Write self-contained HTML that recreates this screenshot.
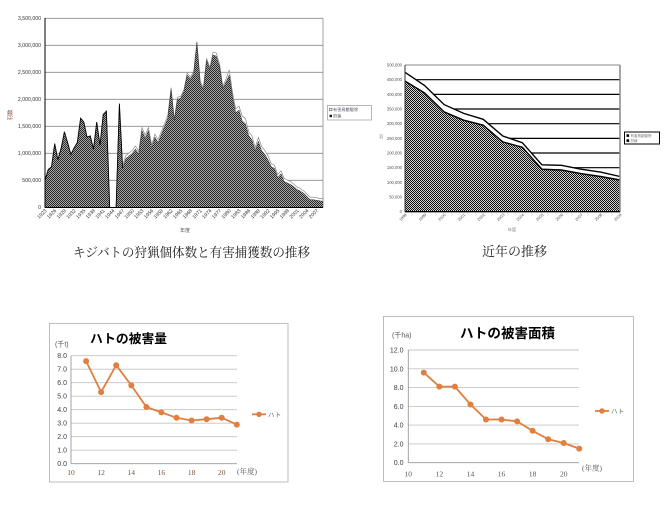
<!DOCTYPE html>
<html><head><meta charset="utf-8"><style>
html,body{margin:0;padding:0;background:#fff;}
svg{display:block;}
.s{font-family:"Liberation Sans","Noto Sans CJK JP",sans-serif;}
.r{font-family:"Liberation Serif","Noto Serif CJK SC",serif;}
</style></head><body>
<svg width="669" height="512" viewBox="0 0 669 512" xmlns="http://www.w3.org/2000/svg">
<defs>
<pattern id="chk" width="2" height="2" patternUnits="userSpaceOnUse">
<rect width="2" height="2" fill="#a4a4a4"/><rect width="1" height="1" fill="#2a2a2a"/><rect x="1" y="1" width="1" height="1" fill="#2a2a2a"/>
</pattern>
<pattern id="chk2" width="2" height="2" patternUnits="userSpaceOnUse">
<rect width="2" height="2" fill="#d0d0d0"/><rect width="1" height="1" fill="#111"/><rect x="1" y="1" width="1" height="1" fill="#111"/>
</pattern>
</defs>
<rect width="669" height="512" fill="#fff"/>

<!-- ============ TOP LEFT CHART ============ -->
<g stroke="#8a8a8a" stroke-width="0.8">
<line x1="45" y1="18.3" x2="323" y2="18.3"/>
<line x1="45" y1="45.3" x2="323" y2="45.3"/>
<line x1="45" y1="72.3" x2="323" y2="72.3"/>
<line x1="45" y1="99.3" x2="323" y2="99.3"/>
<line x1="45" y1="126.3" x2="323" y2="126.3"/>
<line x1="45" y1="153.3" x2="323" y2="153.3"/>
<line x1="45" y1="180.3" x2="323" y2="180.3"/>
<line x1="323" y1="18.3" x2="323" y2="207.3"/>
</g>
<polygon fill="#fff" stroke="#777" stroke-width="0.6" points="116.1,207.3 119.4,103.6 122.6,165.4 125.8,155.7 129.0,153.0 132.3,150.3 135.5,146.0 138.7,151.4 142.0,127.6 145.2,135.2 148.4,127.6 151.7,144.9 154.9,134.1 158.1,139.5 161.4,131.4 164.6,123.3 167.8,115.2 171.1,87.6 174.3,118.9 177.5,97.3 180.8,96.2 184.0,89.2 187.2,73.0 190.5,76.8 193.7,71.4 196.9,41.6 200.2,81.1 203.4,87.6 206.6,58.4 209.9,67.6 213.1,52.0 216.3,53.1 219.6,63.9 222.8,86.5 226.0,79.0 229.3,70.0 232.5,92.6 235.7,108.8 239.0,106.1 242.2,115.9 245.4,118.6 248.7,131.5 251.9,135.8 255.1,147.6 258.4,137.4 261.6,146.6 264.8,150.4 268.0,155.8 271.3,163.8 274.5,165.4 277.7,174.6 281.0,170.8 284.2,178.4 287.4,180.0 290.7,181.6 293.9,184.3 297.1,187.0 300.4,188.6 303.6,190.8 306.8,194.0 310.1,197.2 313.3,197.2 316.5,197.8 319.8,198.3 323.0,198.9 323,207.3"/>
<polygon fill="url(#chk)" points="45,207.3 45,180.3 48.2,169.5 51.5,166.8 54.7,143.6 57.9,159.8 61.2,147.9 64.4,131.7 67.6,142.5 70.9,154.4 74.1,147.9 77.3,142.5 80.6,118.2 83.8,122.0 87.0,137.1 90.3,136.0 93.5,149.0 96.7,122.0 100.0,145.2 103.2,114.4 106.4,111.2 109.7,207.3 116.1,207.3 119.4,103.6 122.6,168.4 125.8,158.7 129.0,156.0 132.3,153.3 135.5,149.0 138.7,154.4 142.0,130.6 145.2,138.2 148.4,130.6 151.7,147.9 154.9,137.1 158.1,142.5 161.4,134.4 164.6,126.3 167.8,118.2 171.1,89.6 174.3,120.9 177.5,99.3 180.8,98.2 184.0,91.2 187.2,75.0 190.5,78.8 193.7,73.4 196.9,42.6 200.2,83.1 203.4,89.6 206.6,60.4 209.9,69.6 213.1,55.0 216.3,56.1 219.6,66.9 222.8,88.5 226.0,82.0 229.3,75.0 232.5,96.6 235.7,112.8 239.0,110.1 242.2,120.9 245.4,123.6 248.7,135.5 251.9,139.8 255.1,150.6 258.4,141.4 261.6,150.6 264.8,154.4 268.0,159.8 271.3,166.8 274.5,168.4 277.7,177.6 281.0,173.8 284.2,181.4 287.4,183.0 290.7,184.6 293.9,186.8 297.1,189.5 300.4,191.1 303.6,193.3 306.8,196.5 310.1,199.7 313.3,199.7 316.5,200.3 319.8,200.8 323.0,201.4 323,207.3"/>
<polyline fill="none" stroke="#000" stroke-width="0.9" points="45,180.3 48.2,169.5 51.5,166.8 54.7,143.6 57.9,159.8 61.2,147.9 64.4,131.7 67.6,142.5 70.9,154.4 74.1,147.9 77.3,142.5 80.6,118.2 83.8,122.0 87.0,137.1 90.3,136.0 93.5,149.0 96.7,122.0 100.0,145.2 103.2,114.4 106.4,111.2 109.7,207.3"/>
<polyline fill="none" stroke="#000" stroke-width="0.9" points="116.1,207.3 119.4,103.6 122.6,168.4"/>
<polyline fill="none" stroke="#333" stroke-width="0.5" points="122.6,168.4 125.8,158.7 129.0,156.0 132.3,153.3 135.5,149.0 138.7,154.4 142.0,130.6 145.2,138.2 148.4,130.6 151.7,147.9 154.9,137.1 158.1,142.5 161.4,134.4 164.6,126.3 167.8,118.2 171.1,89.6 174.3,120.9 177.5,99.3 180.8,98.2 184.0,91.2 187.2,75.0 190.5,78.8 193.7,73.4 196.9,42.6 200.2,83.1 203.4,89.6 206.6,60.4 209.9,69.6 213.1,55.0 216.3,56.1 219.6,66.9 222.8,88.5 226.0,82.0 229.3,75.0 232.5,96.6 235.7,112.8 239.0,110.1 242.2,120.9 245.4,123.6 248.7,135.5 251.9,139.8 255.1,150.6 258.4,141.4 261.6,150.6 264.8,154.4 268.0,159.8 271.3,166.8 274.5,168.4 277.7,177.6 281.0,173.8 284.2,181.4 287.4,183.0 290.7,184.6 293.9,186.8 297.1,189.5 300.4,191.1 303.6,193.3 306.8,196.5 310.1,199.7 313.3,199.7 316.5,200.3 319.8,200.8 323.0,201.4"/>
<line x1="45" y1="18" x2="45" y2="207.8" stroke="#000" stroke-width="1"/>
<line x1="45" y1="207.5" x2="323" y2="207.5" stroke="#000" stroke-width="1"/>
<g class="s" font-size="5.2" fill="#333" text-anchor="end">
<text x="41" y="20">3,500,000</text>
<text x="41" y="47">3,000,000</text>
<text x="41" y="74">2,500,000</text>
<text x="41" y="101">2,000,000</text>
<text x="41" y="128">1,500,000</text>
<text x="41" y="155">1,000,000</text>
<text x="41" y="182">500,000</text>
<text x="41" y="209">0</text>
</g>
<g class="s" font-size="5" fill="#333" text-anchor="end">
<text transform="translate(47,211) rotate(-45)">1923</text>
<text transform="translate(56.7,211) rotate(-45)">1926</text>
<text transform="translate(66.4,211) rotate(-45)">1929</text>
<text transform="translate(76.1,211) rotate(-45)">1932</text>
<text transform="translate(85.8,211) rotate(-45)">1935</text>
<text transform="translate(95.5,211) rotate(-45)">1938</text>
<text transform="translate(105.2,211) rotate(-45)">1941</text>
<text transform="translate(114.9,211) rotate(-45)">1944</text>
<text transform="translate(124.6,211) rotate(-45)">1947</text>
<text transform="translate(134.3,211) rotate(-45)">1950</text>
<text transform="translate(144,211) rotate(-45)">1953</text>
<text transform="translate(153.7,211) rotate(-45)">1956</text>
<text transform="translate(163.4,211) rotate(-45)">1959</text>
<text transform="translate(173.1,211) rotate(-45)">1962</text>
<text transform="translate(182.8,211) rotate(-45)">1965</text>
<text transform="translate(192.5,211) rotate(-45)">1968</text>
<text transform="translate(202.2,211) rotate(-45)">1971</text>
<text transform="translate(211.9,211) rotate(-45)">1974</text>
<text transform="translate(221.6,211) rotate(-45)">1977</text>
<text transform="translate(231.3,211) rotate(-45)">1980</text>
<text transform="translate(241,211) rotate(-45)">1983</text>
<text transform="translate(250.7,211) rotate(-45)">1986</text>
<text transform="translate(260.4,211) rotate(-45)">1989</text>
<text transform="translate(270.1,211) rotate(-45)">1992</text>
<text transform="translate(279.8,211) rotate(-45)">1995</text>
<text transform="translate(289.5,211) rotate(-45)">1998</text>
<text transform="translate(299.2,211) rotate(-45)">2001</text>
<text transform="translate(308.9,211) rotate(-45)">2004</text>
<text transform="translate(318.6,211) rotate(-45)">2007</text>
</g>
<text class="s" font-size="5.5" fill="#8a5040" transform="translate(12,115) rotate(-90)" text-anchor="middle">羽数</text>
<text class="s" font-size="5" fill="#555" x="185" y="232" text-anchor="middle">年度</text>
<rect x="327.5" y="105.5" width="44" height="14.5" fill="#fff" stroke="#888" stroke-width="0.6"/>
<rect x="329.5" y="108.2" width="2.5" height="2.5" fill="#fff" stroke="#333" stroke-width="0.5"/>
<rect x="329.5" y="114.7" width="2.5" height="2.5" fill="#222"/>
<g class="s" font-size="4.2" fill="#556">
<text x="333" y="111">有害鳥獣駆除</text>
<text x="333" y="117.5">狩猟</text>
</g>

<!-- ============ TOP RIGHT CHART ============ -->
<g stroke="#000" stroke-width="1.2">
<line x1="405" y1="79.7" x2="620" y2="79.7"/>
<line x1="405" y1="94.4" x2="620" y2="94.4"/>
<line x1="405" y1="109" x2="620" y2="109"/>
<line x1="405" y1="123.7" x2="620" y2="123.7"/>
<line x1="405" y1="138.4" x2="620" y2="138.4"/>
<line x1="405" y1="153" x2="620" y2="153"/>
<line x1="405" y1="167.7" x2="620" y2="167.7"/>
<line x1="405" y1="182.4" x2="620" y2="182.4"/>
<line x1="405" y1="197" x2="620" y2="197"/>
</g>
<line x1="405" y1="65" x2="620" y2="65" stroke="#888" stroke-width="1"/>
<polygon fill="#fff" points="405,211.7 405,72.3 424.6,85.5 444.1,104.6 463.7,113.4 483.2,119.3 502.8,136.0 522.3,142.7 541.9,164.8 561.4,165.3 581.0,169.2 600.5,172.1 620,176.5 620,211.7"/>
<polygon fill="url(#chk2)" points="405,211.7 405,81.1 424.6,92.9 444.1,111.9 463.7,120.2 483.2,125.2 502.8,141.9 522.3,147.2 541.9,169.2 561.4,170.0 581.0,173.6 600.5,176.5 620,180.0 620,211.7"/>
<polyline fill="none" stroke="#000" stroke-width="1.4" points="405,72.3 424.6,85.5 444.1,104.6 463.7,113.4 483.2,119.3 502.8,136.0 522.3,142.7 541.9,164.8 561.4,165.3 581.0,169.2 600.5,172.1 620,176.5"/>
<polyline fill="none" stroke="#000" stroke-width="1.4" points="405,81.1 424.6,92.9 444.1,111.9 463.7,120.2 483.2,125.2 502.8,141.9 522.3,147.2 541.9,169.2 561.4,170.0 581.0,173.6 600.5,176.5 620,180.0"/>
<line x1="620" y1="65" x2="620" y2="211.7" stroke="#888" stroke-width="1.5"/>
<line x1="405" y1="65" x2="405" y2="212" stroke="#333" stroke-width="1"/>
<line x1="405" y1="211.7" x2="620" y2="211.7" stroke="#000" stroke-width="1.3"/>
<g class="s" font-size="4.2" fill="#555" text-anchor="end">
<text x="402" y="66.5">500,000</text>
<text x="402" y="81.2">450,000</text>
<text x="402" y="95.9">400,000</text>
<text x="402" y="110.5">350,000</text>
<text x="402" y="125.2">300,000</text>
<text x="402" y="139.9">250,000</text>
<text x="402" y="154.5">200,000</text>
<text x="402" y="169.2">150,000</text>
<text x="402" y="183.9">100,000</text>
<text x="402" y="198.5">50,000</text>
<text x="402" y="213.2">0</text>
</g>
<g class="s" font-size="4" fill="#555" text-anchor="end">
<text transform="translate(407,215) rotate(-45)">1998</text>
<text transform="translate(426.6,215) rotate(-45)">1999</text>
<text transform="translate(446.1,215) rotate(-45)">2000</text>
<text transform="translate(465.7,215) rotate(-45)">2001</text>
<text transform="translate(485.2,215) rotate(-45)">2002</text>
<text transform="translate(504.8,215) rotate(-45)">2003</text>
<text transform="translate(524.3,215) rotate(-45)">2004</text>
<text transform="translate(543.9,215) rotate(-45)">2005</text>
<text transform="translate(563.4,215) rotate(-45)">2006</text>
<text transform="translate(583,215) rotate(-45)">2007</text>
<text transform="translate(602.5,215) rotate(-45)">2008</text>
<text transform="translate(622,215) rotate(-45)">2009</text>
</g>
<text class="s" font-size="4.2" fill="#777" x="381" y="138" text-anchor="middle">羽</text>
<text class="s" font-size="4.2" fill="#777" x="512" y="231" text-anchor="middle">年度</text>
<rect x="624.5" y="132" width="35" height="12" fill="#fff" stroke="#000" stroke-width="1"/>
<rect x="626.5" y="134.3" width="2.6" height="2.6" fill="#000"/>
<rect x="626.5" y="139.3" width="2.6" height="2.6" fill="#000"/>
<g class="s" font-size="3.5" fill="#777">
<text x="630.5" y="137">有害鳥獣駆除</text>
<text x="630.5" y="142">狩猟</text>
</g>

<text class="r" font-size="13" fill="#222" x="73" y="257" textLength="237" lengthAdjust="spacingAndGlyphs">キジバトの狩猟個体数と有害捕獲数の推移</text>
<text class="r" font-size="13" fill="#222" x="482" y="256" textLength="65" lengthAdjust="spacingAndGlyphs">近年の推移</text>

<!-- ============ BOTTOM LEFT CHART ============ -->
<rect x="49.5" y="323.5" width="238.5" height="158.5" fill="#fff" stroke="#bdbdbd" stroke-width="1"/>
<text class="s" font-size="12.5" font-weight="bold" fill="#000" x="90" y="343" textLength="77" lengthAdjust="spacingAndGlyphs">ハトの被害量</text>
<g stroke="#c4c4c4" stroke-width="0.9">
<line x1="71" y1="355.7" x2="237" y2="355.7"/>
<line x1="71" y1="369.2" x2="237" y2="369.2"/>
<line x1="71" y1="382.7" x2="237" y2="382.7"/>
<line x1="71" y1="396.2" x2="237" y2="396.2"/>
<line x1="71" y1="409.7" x2="237" y2="409.7"/>
<line x1="71" y1="423.2" x2="237" y2="423.2"/>
<line x1="71" y1="436.7" x2="237" y2="436.7"/>
<line x1="71" y1="450.2" x2="237" y2="450.2"/>
</g>
<line x1="71" y1="355.7" x2="71" y2="463.7" stroke="#999" stroke-width="0.9"/>
<line x1="71" y1="463.7" x2="237" y2="463.7" stroke="#999" stroke-width="0.9"/>
<g class="s" font-size="7" fill="#3b3b4b" text-anchor="end">
<text x="67" y="358.2">8.0</text>
<text x="67" y="371.7">7.0</text>
<text x="67" y="385.2">6.0</text>
<text x="67" y="398.7">5.0</text>
<text x="67" y="412.2">4.0</text>
<text x="67" y="425.7">3.0</text>
<text x="67" y="439.2">2.0</text>
<text x="67" y="452.7">1.0</text>
<text x="67" y="466.2">0.0</text>
</g>
<g class="r" font-size="7.5" fill="#7a5035" text-anchor="middle">
<text x="71" y="475">10</text>
<text x="101.1" y="475">12</text>
<text x="131.3" y="475">14</text>
<text x="161.4" y="475">16</text>
<text x="191.6" y="475">18</text>
<text x="221.7" y="475">20</text>
</g>
<text class="r" font-size="7.5" fill="#555" x="237" y="474">(年度)</text>
<text class="s" font-size="7" fill="#555" x="55" y="346.5">(千t)</text>
<polyline fill="none" stroke="#e07f3f" stroke-width="1.8" stroke-linejoin="round" points="86.1,361.1 101.1,392.1 116.2,365.2 131.3,385.4 146.4,407.0 161.4,412.4 176.5,417.8 191.6,420.5 206.6,419.2 221.7,417.8 236.8,424.6"/>
<g fill="#e07f3f">
<circle cx="86.1" cy="361.1" r="3"/><circle cx="101.1" cy="392.1" r="3"/><circle cx="116.2" cy="365.2" r="3"/><circle cx="131.3" cy="385.4" r="3"/><circle cx="146.4" cy="407.0" r="3"/><circle cx="161.4" cy="412.4" r="3"/><circle cx="176.5" cy="417.8" r="3"/><circle cx="191.6" cy="420.5" r="3"/><circle cx="206.6" cy="419.2" r="3"/><circle cx="221.7" cy="417.8" r="3"/><circle cx="236.8" cy="424.6" r="3"/>
</g>
<line x1="252" y1="414.3" x2="266" y2="414.3" stroke="#e07f3f" stroke-width="1.8"/>
<circle cx="259" cy="414.3" r="2.7" fill="#e07f3f"/>
<text class="s" font-size="6.5" fill="#666" x="268" y="416.8">ハト</text>

<!-- ============ BOTTOM RIGHT CHART ============ -->
<rect x="383.5" y="316.5" width="250" height="165" fill="#fff" stroke="#bdbdbd" stroke-width="1"/>
<text class="s" font-size="13.5" font-weight="bold" fill="#000" x="460" y="338" textLength="95" lengthAdjust="spacingAndGlyphs">ハトの被害面積</text>
<g stroke="#c4c4c4" stroke-width="0.9">
<line x1="408.3" y1="350" x2="579" y2="350"/>
<line x1="408.3" y1="368.8" x2="579" y2="368.8"/>
<line x1="408.3" y1="387.6" x2="579" y2="387.6"/>
<line x1="408.3" y1="406.4" x2="579" y2="406.4"/>
<line x1="408.3" y1="425.1" x2="579" y2="425.1"/>
<line x1="408.3" y1="443.9" x2="579" y2="443.9"/>
</g>
<line x1="408.3" y1="350" x2="408.3" y2="462.7" stroke="#999" stroke-width="0.9"/>
<line x1="408.3" y1="462.7" x2="579" y2="462.7" stroke="#999" stroke-width="0.9"/>
<g class="s" font-size="7" fill="#3b3b4b" text-anchor="end">
<text x="403.5" y="352.5">12.0</text>
<text x="403.5" y="371.3">10.0</text>
<text x="403.5" y="390.1">8.0</text>
<text x="403.5" y="408.9">6.0</text>
<text x="403.5" y="427.6">4.0</text>
<text x="403.5" y="446.4">2.0</text>
<text x="403.5" y="465.2">0.0</text>
</g>
<g class="r" font-size="7.5" fill="#555" text-anchor="middle">
<text x="408.3" y="476.5">10</text>
<text x="439.4" y="476.5">12</text>
<text x="470.5" y="476.5">14</text>
<text x="501.5" y="476.5">16</text>
<text x="532.6" y="476.5">18</text>
<text x="563.7" y="476.5">20</text>
</g>
<text class="r" font-size="7.5" fill="#555" x="582" y="470.5">(年度)</text>
<text class="s" font-size="7" fill="#555" x="392" y="337.5">(千ha)</text>
<polyline fill="none" stroke="#e07f3f" stroke-width="1.8" stroke-linejoin="round" points="423.8,372.6 439.4,386.6 454.9,386.6 470.5,404.5 486.0,419.5 501.5,419.5 517.1,421.4 532.6,430.8 548.2,439.2 563.7,443.0 579.2,448.6"/>
<g fill="#e07f3f">
<circle cx="423.8" cy="372.6" r="3"/><circle cx="439.4" cy="386.6" r="3"/><circle cx="454.9" cy="386.6" r="3"/><circle cx="470.5" cy="404.5" r="3"/><circle cx="486.0" cy="419.5" r="3"/><circle cx="501.5" cy="419.5" r="3"/><circle cx="517.1" cy="421.4" r="3"/><circle cx="532.6" cy="430.8" r="3"/><circle cx="548.2" cy="439.2" r="3"/><circle cx="563.7" cy="443.0" r="3"/><circle cx="579.2" cy="448.6" r="3"/>
</g>
<line x1="595" y1="411" x2="609" y2="411" stroke="#e07f3f" stroke-width="1.8"/>
<circle cx="602" cy="411" r="2.7" fill="#e07f3f"/>
<text class="s" font-size="6.5" fill="#666" x="611" y="413.5">ハト</text>
</svg>
</body></html>
